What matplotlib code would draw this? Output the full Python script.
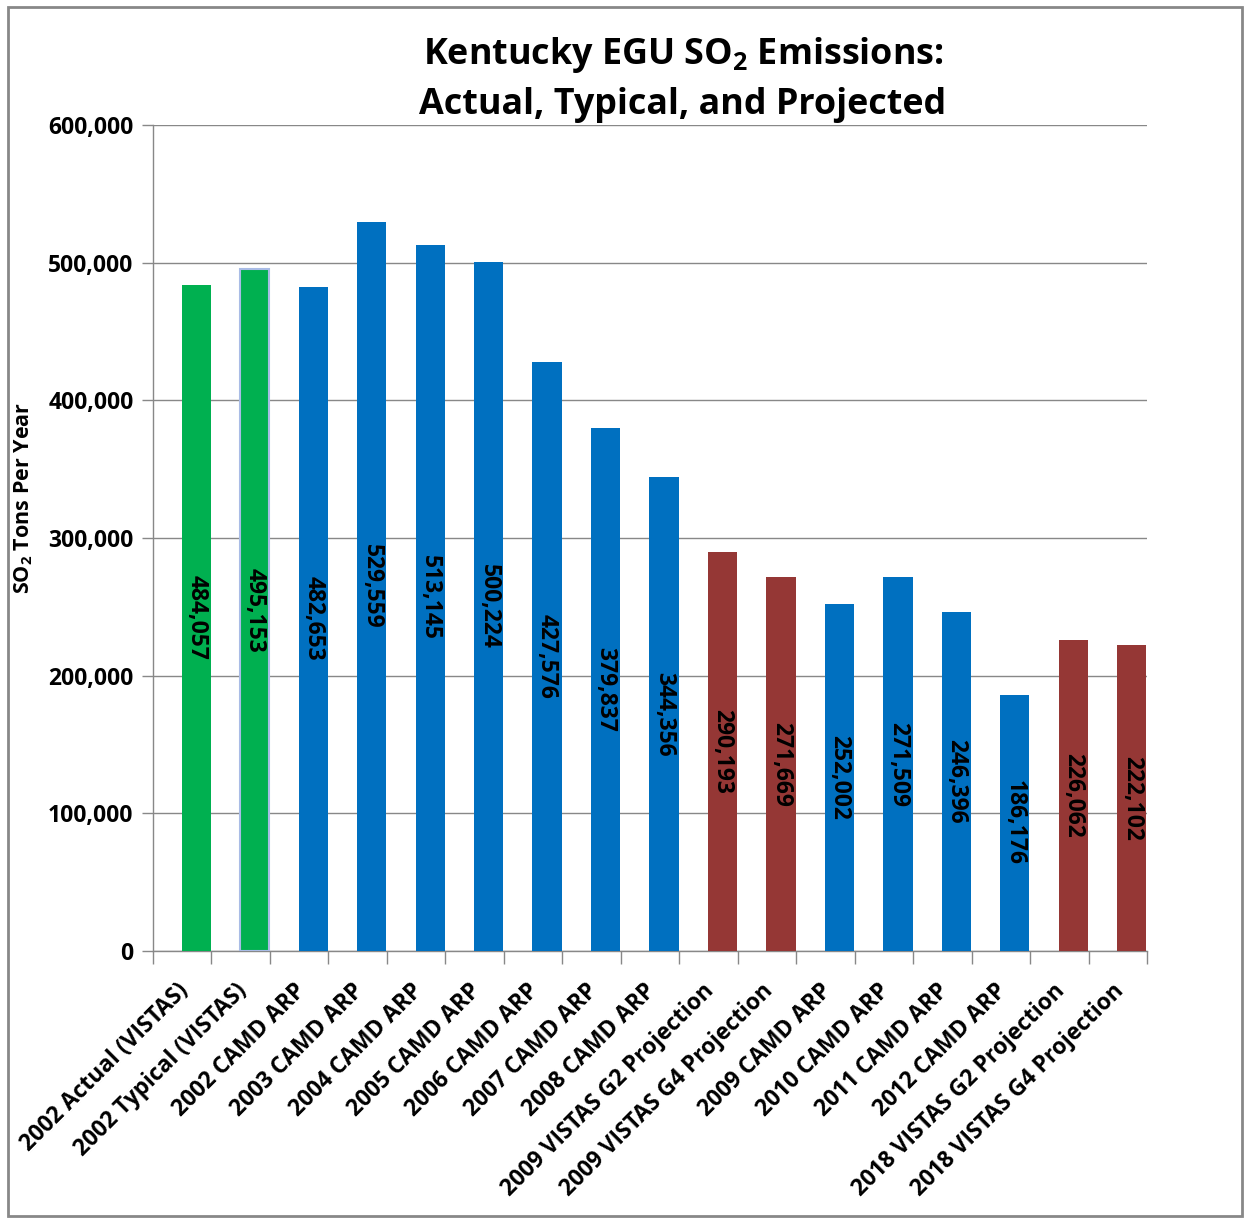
import matplotlib
matplotlib.use("Agg")
import matplotlib.pyplot as plt
from matplotlib.patches import Rectangle
from matplotlib.ticker import FuncFormatter, FixedLocator
from matplotlib.transforms import ScaledTranslation
import numpy as np

plt.rcParams['font.family'] = ['Open Sans', 'DejaVu Sans']
plt.rcParams['font.weight'] = 'bold'
plt.rcParams['mathtext.default'] = 'regular'

categories = ["2002 Actual (VISTAS)", "2002 Typical (VISTAS)", "2002 CAMD ARP",
              "2003 CAMD ARP", "2004 CAMD ARP", "2005 CAMD ARP", "2006 CAMD ARP",
              "2007 CAMD ARP", "2008 CAMD ARP", "2009 VISTAS G2 Projection",
              "2009 VISTAS G4 Projection", "2009 CAMD ARP", "2010 CAMD ARP",
              "2011 CAMD ARP", "2012 CAMD ARP", "2018 VISTAS G2 Projection",
              "2018 VISTAS G4 Projection"]
values = [484057, 495153, 482653, 529559, 513145, 500224, 427576, 379837, 344356,
          290193, 271669, 252002, 271509, 246396, 186176, 226062, 222102]
groups = ["vistas", "vistas", "arp", "arp", "arp", "arp", "arp", "arp", "arp",
          "proj", "proj", "arp", "arp", "arp", "arp", "proj", "proj"]
group_colors = {"vistas": "#00B050", "arp": "#0070C0", "proj": "#953735"}
yticks = [0, 100000, 200000, 300000, 400000, 500000, 600000]

fig = plt.figure(figsize=(12.44, 12.18), dpi=100)
ax = fig.add_axes([153/1244, 1-951/1218, (1147-153)/1244, (951-125)/1218])

x = np.arange(len(categories))
bar_x = x + 0.24
colors = [group_colors[g] for g in groups]
bars = ax.bar(bar_x, values, width=0.5, color=colors, zorder=3)
bars[1].set_edgecolor("#A9BCE6")
bars[1].set_linewidth(1.5)

for xi, v in zip(bar_x, values):
    ax.text(xi, v/2, f"{v:,}", rotation=270, ha='center', va='center',
            fontsize=16.5, fontweight='bold', color='black', zorder=4)

ax.set_xlim(-0.5, len(categories)-0.5)
ax.set_ylim(0, 600000)
ax.set_yticks(yticks)
ax.yaxis.set_major_formatter(FuncFormatter(lambda v, p: f"{int(v):,}"))
ax.tick_params(axis='y', labelsize=16.5, length=8, color='#888888', width=1, pad=6)
for lab in ax.get_yticklabels():
    lab.set_fontweight('bold')

ax.grid(axis='y', color='#888888', linewidth=1, zorder=0)
ax.set_axisbelow(True)

ax.set_xticks(x)
ax.set_xticklabels(categories, rotation=45, ha='right', va='top',
                   rotation_mode='anchor', fontsize=16.4, fontweight='bold')
ax.tick_params(axis='x', length=0, pad=20)
offset = ScaledTranslation(-6/100, 0, fig.dpi_scale_trans)
for lab in ax.get_xticklabels():
    lab.set_transform(lab.get_transform() + offset)
ax.xaxis.set_minor_locator(FixedLocator(np.arange(-0.5, len(categories), 1.0)))
ax.tick_params(axis='x', which='minor', length=9, color='#888888', width=1)

for s in ['top', 'right']:
    ax.spines[s].set_visible(False)
for s in ['left', 'bottom']:
    ax.spines[s].set_color('#888888')
    ax.spines[s].set_linewidth(1)

ax.set_ylabel("SO$_2$ Tons Per Year", fontsize=15.5, fontweight='bold')
ax.yaxis.set_label_coords(-0.119, 0.548)

fig.text(683/1244, 1-55/1218, "Kentucky EGU SO$_2$ Emissions:", ha='center', va='center',
         fontsize=25.8, fontweight='bold')
fig.text(683/1244, 1-105/1218, "Actual, Typical, and Projected", ha='center', va='center',
         fontsize=25.8, fontweight='bold')

fig.patches.append(Rectangle((8/1244, 1-1216/1218), (1242-8)/1244, (1216-7)/1218,
                             transform=fig.transFigure, fill=False,
                             edgecolor='#888888', linewidth=2))

fig.savefig("out.png", dpi=100)
